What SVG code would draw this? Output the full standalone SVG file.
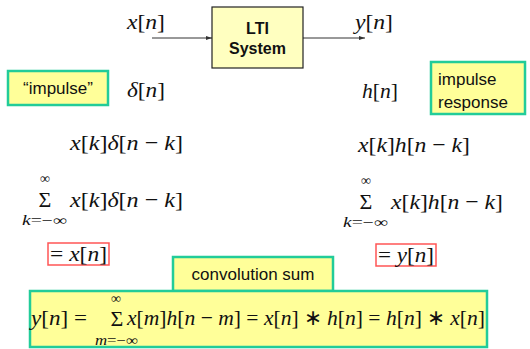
<svg xmlns="http://www.w3.org/2000/svg" width="530" height="349" viewBox="0 0 530 349">
<style>
.m{font-size:22px;fill:#111}
.i{font-style:italic}
.s{font-size:14px;fill:#111}
.lab{font-size:17px;fill:#111}
.note{fill:#ffff99;stroke:#22cc99;stroke-width:2.5}
.red{fill:none;stroke:#ff5555;stroke-width:1.5}
.conn{stroke:#333;stroke-width:1;fill:none}
.serif{font-family:"Liberation Serif","Times New Roman",serif}
.sans{font-family:"Liberation Sans",Arial,sans-serif}
</style>
<defs>
<marker id="ah" viewBox="0 0 6 6" refX="6" refY="3" markerWidth="6" markerHeight="6" orient="auto" markerUnits="userSpaceOnUse">
<path d="M0,1 L6,3 L0,5 z" fill="#333"/>
</marker>
</defs>
<g id="connectors">
<line class="conn" x1="152" y1="38" x2="212" y2="38" marker-end="url(#ah)"/>
<line class="conn" x1="303" y1="38" x2="365" y2="38" marker-end="url(#ah)"/>
</g>
<g class="serif">
<g id="input">
<text class="m" x="127" y="29" textLength="38" lengthAdjust="spacingAndGlyphs"><tspan class="i">x</tspan>[<tspan class="i">n</tspan>]</text>
</g>
<g id="output">
<text class="m" x="355" y="29" textLength="38" lengthAdjust="spacingAndGlyphs"><tspan class="i">y</tspan>[<tspan class="i">n</tspan>]</text>
</g>
<g id="delta">
<text class="m" x="127" y="97" textLength="38" lengthAdjust="spacingAndGlyphs"><tspan class="i">δ</tspan>[<tspan class="i">n</tspan>]</text>
</g>
<g id="hn">
<text class="m" x="362" y="98" textLength="36" lengthAdjust="spacingAndGlyphs"><tspan class="i">h</tspan>[<tspan class="i">n</tspan>]</text>
</g>
<g id="left-product">
<text class="m" x="70" y="150" textLength="113" lengthAdjust="spacingAndGlyphs"><tspan class="i">x</tspan>[<tspan class="i">k</tspan>]<tspan class="i">δ</tspan>[<tspan class="i">n</tspan> − <tspan class="i">k</tspan>]</text>
</g>
<g id="right-product">
<text class="m" x="358" y="152" textLength="112" lengthAdjust="spacingAndGlyphs"><tspan class="i">x</tspan>[<tspan class="i">k</tspan>]<tspan class="i">h</tspan>[<tspan class="i">n</tspan> − <tspan class="i">k</tspan>]</text>
</g>
<g id="left-sum">
<text class="s" x="45" y="183" text-anchor="middle">∞</text>
<text class="m" x="45" y="207" text-anchor="middle" font-size="21">Σ</text>
<text class="s" x="22" y="225" textLength="45" lengthAdjust="spacingAndGlyphs"><tspan class="i">k</tspan>=−∞</text>
<text class="m" x="70" y="207" textLength="113" lengthAdjust="spacingAndGlyphs"><tspan class="i">x</tspan>[<tspan class="i">k</tspan>]<tspan class="i">δ</tspan>[<tspan class="i">n</tspan> − <tspan class="i">k</tspan>]</text>
</g>
<g id="right-sum">
<text class="s" x="366" y="185" text-anchor="middle">∞</text>
<text class="m" x="366" y="209" text-anchor="middle" font-size="21">Σ</text>
<text class="s" x="343" y="227" textLength="45" lengthAdjust="spacingAndGlyphs"><tspan class="i">k</tspan>=−∞</text>
<text class="m" x="391" y="209" textLength="112" lengthAdjust="spacingAndGlyphs"><tspan class="i">x</tspan>[<tspan class="i">k</tspan>]<tspan class="i">h</tspan>[<tspan class="i">n</tspan> − <tspan class="i">k</tspan>]</text>
</g>
<g id="left-result">
<rect class="red" x="48" y="243" width="61" height="22"/>
<text class="m" x="50" y="261" textLength="57" lengthAdjust="spacingAndGlyphs">= <tspan class="i">x</tspan>[<tspan class="i">n</tspan>]</text>
</g>
<g id="right-result">
<rect class="red" x="376" y="244" width="60" height="22"/>
<text class="m" x="378" y="262" textLength="56" lengthAdjust="spacingAndGlyphs">= <tspan class="i">y</tspan>[<tspan class="i">n</tspan>]</text>
</g>
</g>
<g id="lti">
<rect x="212" y="7" width="91" height="61" fill="#ffffc0" stroke="#222" stroke-width="1.2"/>
<text class="sans" x="257.5" y="34" text-anchor="middle" font-weight="bold" font-size="16" fill="#111">LTI</text>
<text class="sans" x="257.5" y="54" text-anchor="middle" font-weight="bold" font-size="16" fill="#111">System</text>
</g>
<g class="sans">
<g id="impulse-label">
<rect class="note" x="8" y="71" width="100" height="34"/>
<text class="lab" x="58" y="94" text-anchor="middle">“impulse”</text>
</g>
<g id="impulse-response-label">
<rect class="note" x="431" y="62" width="94" height="52"/>
<text class="lab" x="438" y="85">impulse</text>
<text class="lab" x="438" y="108">response</text>
</g>
<g id="convolution-label">
<rect class="note" x="173" y="257" width="160" height="34"/>
<text class="lab" x="253" y="280" text-anchor="middle" font-size="18">convolution sum</text>
</g>
</g>
<g id="convolution-formula" class="serif">
<rect class="note" x="30" y="291" width="457" height="56"/>
<text class="m" x="31" y="325" font-size="24" textLength="56" lengthAdjust="spacingAndGlyphs"><tspan class="i">y</tspan>[<tspan class="i">n</tspan>] =</text>
<text class="s" x="116" y="303" text-anchor="middle">∞</text>
<text class="m" x="117" y="326" text-anchor="middle" font-size="22">Σ</text>
<text class="s" x="95" y="345" textLength="43" lengthAdjust="spacingAndGlyphs"><tspan class="i">m</tspan>=−∞</text>
<text class="m" x="127" y="325" font-size="24" textLength="358" lengthAdjust="spacingAndGlyphs"><tspan class="i">x</tspan>[<tspan class="i">m</tspan>]<tspan class="i">h</tspan>[<tspan class="i">n</tspan> − <tspan class="i">m</tspan>] = <tspan class="i">x</tspan>[<tspan class="i">n</tspan>] ∗ <tspan class="i">h</tspan>[<tspan class="i">n</tspan>] = <tspan class="i">h</tspan>[<tspan class="i">n</tspan>] ∗ <tspan class="i">x</tspan>[<tspan class="i">n</tspan>]</text>
</g>
</svg>
